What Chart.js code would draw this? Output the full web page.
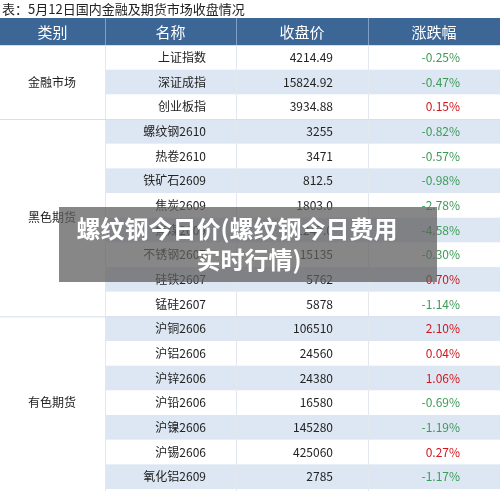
<!DOCTYPE html><html><head><meta charset="utf-8">
<script src="https://cdn.jsdelivr.net/npm/chart.js@4"></script>
<style>html,body{margin:0;background:#fff}#w{width:500px;height:491px}</style></head><body>
<div id="w"><canvas id="c"></canvas></div>
<script>
const headers=['类别','名称','收盘价','涨跌幅'];
const groups=[['金融市场',0,3],['黑色期货',3,11],['有色期货',11,18]];
const names=['上证指数','深证成指','创业板指','螺纹钢2610','热卷2610','铁矿石2609','焦炭2609','焦煤2609','不锈钢2607','硅铁2607','锰硅2607','沪铜2606','沪铝2606','沪锌2606','沪铅2606','沪镍2606','沪锡2606','氧化铝2609'];
const prices=['4214.49','15824.92','3934.88','3255','3471','812.5','1803.0','1247.0','15135','5762','5878','106510','24560','24380','16580','145280','425060','2785'];
const changes=[-0.25,-0.47,0.15,-0.82,-0.57,-0.98,-2.78,-4.58,-0.30,0.70,-1.14,2.10,0.04,1.06,-0.69,-1.19,0.27,-1.17];
const title='表：5月12日国内金融及期货市场收盘情况';
const overlay=['螺纹钢今日价(螺纹钢今日费用','实时行情)'];
const cols=[0,105,236,368,500];
const F='"Noto Sans CJK SC","Noto Sans",sans-serif';
const plug={id:'tbl',afterDraw(ch){
 const c=ch.ctx,y=ch.scales.y;c.save();
 c.fillStyle='#222';c.font='13px '+F;c.textBaseline='middle';c.textAlign='left';c.fillText(title,2,9);
 c.fillStyle='#3b6696';c.fillRect(0,18,500,27);
 c.fillStyle='#fff';c.font='15px '+F;c.textAlign='center';
 headers.forEach((h,i)=>c.fillText(h,(cols[i]+cols[i+1])/2,32));
 c.strokeStyle='#7f9fc4';c.lineWidth=1;
 for(let i=1;i<4;i++){c.beginPath();c.moveTo(cols[i]+.5,18);c.lineTo(cols[i]+.5,45);c.stroke();}
 const h=Math.abs(y.getPixelForValue(1)-y.getPixelForValue(0));
 names.forEach((n,i)=>{const cy=y.getPixelForValue(i);
  if(i%2==1){c.fillStyle='#dde7f3';c.fillRect(105,cy-h/2,395,h);}
 });
 c.strokeStyle='#e3e8ef';
 for(let i=1;i<4;i++){c.beginPath();c.moveTo(cols[i]+.5,45);c.lineTo(cols[i]+.5,491);c.stroke();}
 groups.forEach(g=>{const t=y.getPixelForValue(g[1])-h/2;c.strokeStyle='#d6dfea';c.beginPath();c.moveTo(0,t+.5);c.lineTo(500,t+.5);c.stroke();
  c.fillStyle='#222';c.font='12px '+F;c.textAlign='center';
  c.fillText(g[0],52,(y.getPixelForValue(g[1])+y.getPixelForValue(g[2]-1))/2);});
 c.font='12px '+F;
 names.forEach((n,i)=>{const cy=y.getPixelForValue(i);
  c.fillStyle='#222';c.textAlign='right';c.fillText(n,206,cy);c.fillText(prices[i],333,cy);
  const v=changes[i];c.fillStyle=v<0?'#3e9a58':'#d0161c';
  c.fillText(v.toFixed(2)+'%',460,cy);});
 c.fillStyle='rgba(95,95,95,0.75)';c.fillRect(59,207,378,75);
 c.fillStyle='#fff';c.font='bold 24px '+F;c.textAlign='center';
 c.fillText(overlay[0],237,229);c.fillText(overlay[1],249,260);
 c.restore();}};
new Chart(document.getElementById('c'),{type:'bar',data:{labels:names,datasets:[{data:changes.map(()=>0)}]},
 options:{indexAxis:'y',responsive:true,maintainAspectRatio:false,animation:false,
 layout:{padding:{top:45,bottom:2,left:0,right:0}},
 plugins:{legend:{display:false},tooltip:{enabled:false}},
 scales:{x:{display:false},y:{display:false,offset:true}}},plugins:[plug]});
</script></body></html>
